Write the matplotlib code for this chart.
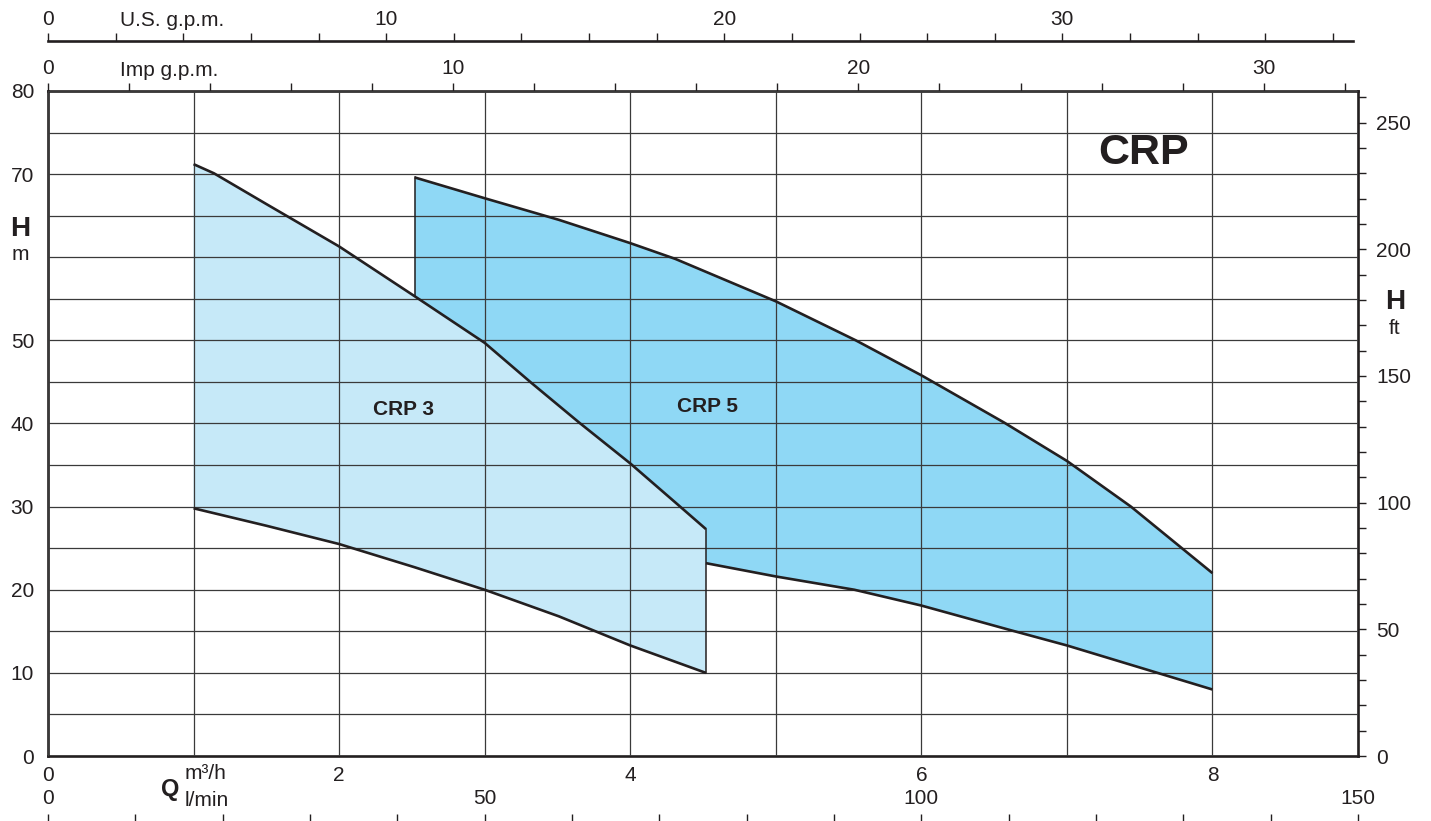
import numpy as np
import matplotlib
matplotlib.use("Agg")
import matplotlib.pyplot as plt
from matplotlib.ticker import MultipleLocator, FixedLocator

plt.rcParams['font.family'] = ['Liberation Sans', 'DejaVu Sans']

# flow in m3/h, head in m
crp3_q_up = [1.0, 1.14, 1.5, 2.0, 2.52, 3.0, 3.32, 3.65, 4.0, 4.31, 4.52]
crp3_h_up = [71.2, 70.1, 66.4, 61.3, 55.3, 49.7, 44.9, 40.1, 35.2, 30.5, 27.3]
crp3_q_lo = [1.0, 1.5, 2.0, 2.52, 3.0, 3.51, 4.0, 4.52]
crp3_h_lo = [29.8, 27.7, 25.5, 22.7, 20.0, 16.8, 13.3, 10.0]

crp5_q_up = [2.52, 3.0, 3.51, 4.0, 4.31, 5.0, 5.55, 6.0, 6.57, 7.0, 7.44, 8.0]
crp5_h_up = [69.6, 67.1, 64.5, 61.7, 59.8, 54.7, 50.0, 45.8, 40.1, 35.5, 30.0, 22.0]
crp5_q_lo = [4.52, 5.0, 5.54, 6.0, 6.6, 7.0, 8.0]
crp5_h_lo = [23.2, 21.6, 20.0, 18.1, 15.2, 13.3, 8.0]

h_ticks = [0, 10, 20, 30, 40, 50, 70, 80]

# unit scales as printed on this sheet
US_GPM = 0.2323   # m3/h per U.S. g.p.m.
IMP_GPM = 0.2784  # m3/h per Imp g.p.m.
FT = 0.3048

W, H = 1431, 821
INK = '#231f20'
C3 = '#c6e9f8'
C5 = '#8fd8f5'
FS = 15

fig = plt.figure(figsize=(W / 100, H / 100), dpi=100)
ax = fig.add_axes([48 / W, 1 - 756 / H, 1310 / W, 665 / H])
ax.set_xlim(0, 9.0)
ax.set_ylim(0, 80)

# CRP 5 area: upper curve, lower curve back, then along CRP 3 top
q3u = np.array(crp3_q_up)
h3u = np.array(crp3_h_up)
m = q3u >= crp5_q_up[0]
poly5_x = list(crp5_q_up) + crp5_q_lo[::-1] + list(q3u[m][::-1])
poly5_y = list(crp5_h_up) + crp5_h_lo[::-1] + list(h3u[m][::-1])
ax.fill(poly5_x, poly5_y, color=C5, lw=0, zorder=1)

poly3_x = crp3_q_up + crp3_q_lo[::-1]
poly3_y = crp3_h_up + crp3_h_lo[::-1]
ax.fill(poly3_x, poly3_y, color=C3, lw=0, zorder=1.1)

for qq, hh in [(crp3_q_up, crp3_h_up), (crp3_q_lo, crp3_h_lo),
               (crp5_q_up, crp5_h_up), (crp5_q_lo, crp5_h_lo)]:
    ax.plot(qq, hh, color=INK, lw=1.9, zorder=3, solid_capstyle='butt', solid_joinstyle='round')
# vertical edges
ax.plot([crp3_q_lo[-1]] * 2, [crp3_h_lo[-1], crp3_h_up[-1]], color=INK, lw=1.1, zorder=3)
ax.plot([crp5_q_up[0]] * 2, [np.interp(crp5_q_up[0], crp3_q_up, crp3_h_up), crp5_h_up[0]],
        color=INK, lw=1.1, zorder=3)

ax.text(2.445, 41.7, 'CRP 3', fontsize=15, fontweight='bold', color=INK, ha='center', va='center', zorder=4)
ax.text(4.53, 42.0, 'CRP 5', fontsize=15, fontweight='bold', color=INK, ha='center', va='center', zorder=4)
ax.text(7.53, 72.6, 'CRP', fontsize=31, fontweight='bold', color=INK, ha='center', va='center', zorder=4)

# grid over the fills
ax.set_axisbelow(False)
ax.xaxis.set_major_locator(MultipleLocator(2))
ax.xaxis.set_minor_locator(MultipleLocator(1))
ax.yaxis.set_major_locator(FixedLocator(h_ticks))
ax.yaxis.set_minor_locator(MultipleLocator(5))
ax.grid(which='both', color='#3a3a3a', lw=0.9)
ax.tick_params(which='both', length=0, labelsize=FS, colors=INK)
ax.tick_params(axis='x', pad=7)
ax.tick_params(axis='y', pad=10)
for s in ax.spines.values():
    s.set_linewidth(1.9)
    s.set_color(INK)

# Imp g.p.m. on the top edge
imp = ax.secondary_xaxis('top', functions=(lambda q: q / IMP_GPM, lambda g: g * IMP_GPM))
imp.xaxis.set_major_locator(FixedLocator([0, 10, 20, 30]))
imp.xaxis.set_minor_locator(MultipleLocator(2))
imp.tick_params(which='both', direction='out', length=6, width=1, colors=INK, labelsize=FS, pad=3)
imp.spines['top'].set_visible(False)

# U.S. g.p.m. above it
us = ax.secondary_xaxis((756 - 41.5) / 665, functions=(lambda q: q / US_GPM, lambda g: g * US_GPM))
us.xaxis.set_major_locator(FixedLocator([0, 10, 20, 30]))
us.xaxis.set_minor_locator(MultipleLocator(2))
us.tick_params(which='both', direction='out', length=6, width=1, colors=INK, labelsize=FS, pad=3)
us.spines['top'].set_linewidth(1.9)
us.spines['top'].set_color(INK)
us.spines['top'].set_bounds(0, 38.6)

# l/min at the bottom, labels above its line
lmin = ax.secondary_xaxis((756 - 822) / 665, functions=(lambda q: q * 1000 / 60, lambda l: l * 60 / 1000))
lmin.set_alignment('top')
lmin.xaxis.set_major_locator(FixedLocator([0, 50, 100, 150]))
lmin.xaxis.set_minor_locator(MultipleLocator(10))
lmin.tick_params(which='both', direction='out', length=6, width=1, colors=INK, labelsize=FS, pad=4)

# feet on the right
ft = ax.secondary_yaxis('right', functions=(lambda h: h / FT, lambda f: f * FT))
ft.yaxis.set_major_locator(MultipleLocator(50))
ft.yaxis.set_minor_locator(MultipleLocator(10))
ft.tick_params(which='both', direction='out', length=6, width=1, colors=INK, labelsize=FS, pad=7)
ft.spines['right'].set_visible(False)


def ftext(x, y, s, **kw):
    fig.text(x / W, 1 - y / H, s, color=INK, **kw)


ftext(120, 21, 'U.S. g.p.m.', fontsize=FS, va='center', ha='left')
ftext(120, 70, 'Imp g.p.m.', fontsize=FS, va='center', ha='left')
ftext(185, 773, 'm³/h', fontsize=FS, va='center', ha='left')
ftext(185, 800, 'l/min', fontsize=FS, va='center', ha='left')
ftext(170, 789, 'Q', fontsize=17, fontweight='bold', va='center', ha='center')
ftext(20, 229, 'H', fontsize=20, fontweight='bold', va='center', ha='center')
ftext(20, 254, 'm', fontsize=FS, va='center', ha='center')
ftext(1395, 302, 'H', fontsize=20, fontweight='bold', va='center', ha='center')
ftext(1395, 328, 'ft', fontsize=FS, va='center', ha='center')

fig.savefig('out.png', dpi=100)
